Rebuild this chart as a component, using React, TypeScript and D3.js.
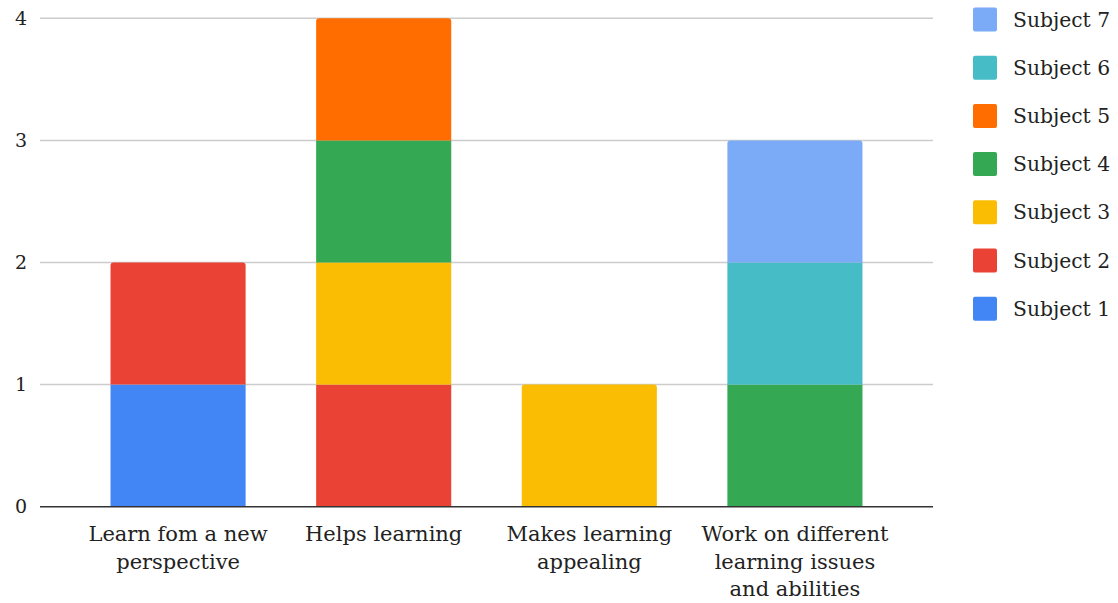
import React from "react";
import * as d3 from "d3";

const categories = [
  "Learn fom a new perspective",
  "Helps learning",
  "Makes learning appealing",
  "Work on different learning issues and abilities",
];
const categoryLines = [
  ["Learn fom a new", "perspective"],
  ["Helps learning"],
  ["Makes learning", "appealing"],
  ["Work on different", "learning issues", "and abilities"],
];
const seriesNames = ["Subject 1", "Subject 2", "Subject 3", "Subject 4", "Subject 5", "Subject 6", "Subject 7"];
const seriesColors = ["#4285F4", "#EA4335", "#FBBC04", "#34A853", "#FF6D01", "#46BDC6", "#7BAAF7"];
// values per category, one entry per series
const subject1 = [1, 0, 0, 0];
const subject2 = [1, 1, 0, 0];
const subject3 = [0, 1, 1, 0];
const subject4 = [0, 1, 0, 1];
const subject5 = [0, 1, 0, 0];
const subject6 = [0, 0, 0, 1];
const subject7 = [0, 0, 0, 1];
const yTicks = [0, 1, 2, 3, 4];

const W = 1118;
const H = 603;
const FONT = "'DejaVu Serif', 'Liberation Serif', serif";

function topRoundedRect(x: number, y: number, w: number, h: number, r: number) {
  const rr = Math.min(r, h / 2, w / 2);
  return `M${x},${y + h}V${y + rr}Q${x},${y} ${x + rr},${y}H${x + w - rr}Q${x + w},${y} ${x + w},${y + rr}V${y + h}Z`;
}

export default function App() {
  const seriesValues = [subject1, subject2, subject3, subject4, subject5, subject6, subject7];
  const rows = categories.map((c, i) => {
    const row: Record<string, number | string> = { category: c };
    seriesNames.forEach((s, j) => (row[s] = seriesValues[j][i]));
    return row;
  });
  const stack = d3.stack<Record<string, number | string>>().keys(seriesNames);
  const layers = stack(rows as any);

  const x = d3.scaleBand<string>().domain(categories).range([40, 933]).padding(0.343);
  const y = d3.scaleLinear().domain([0, 4]).range([506.7, 18.3]);

  // highest non-empty segment per category gets rounded top corners
  const topIndex = categories.map((_, i) => {
    let t = -1;
    seriesNames.forEach((_, j) => {
      if (seriesValues[j][i] > 0) t = j;
    });
    return t;
  });

  const legendOrder = seriesNames.map((_, i) => i).reverse();

  return (
    <svg width={W} height={H} style={{ position: "absolute", left: 0, top: 0, background: "#fff" }}>
      <rect width={W} height={H} fill="#fff" />
      {yTicks.filter((t) => t > 0).map((t) => (
        <line key={t} x1={40} x2={933} y1={y(t)} y2={y(t)} stroke="#cccccc" strokeWidth={1.5} />
      ))}
      {yTicks.map((t) => (
        <text key={t} x={27} y={y(t)} dy="0.35em" textAnchor="end" fontFamily={FONT} fontSize={19} fill="#222">
          {t}
        </text>
      ))}
      {layers.map((layer, j) =>
        layer.map((d, i) => {
          const v = d[1] - d[0];
          if (v <= 0) return null;
          const bx = x(categories[i])!;
          const bw = x.bandwidth();
          const y0 = y(d[0]);
          const y1 = y(d[1]);
          if (topIndex[i] === j) {
            return <path key={`${j}-${i}`} d={topRoundedRect(bx, y1, bw, y0 - y1, 3)} fill={seriesColors[j]} />;
          }
          return <rect key={`${j}-${i}`} x={bx} y={y1} width={bw} height={y0 - y1} fill={seriesColors[j]} />;
        })
      )}
      <line x1={40} x2={933} y1={y(0)} y2={y(0)} stroke="#333333" strokeWidth={1.6} />
      {categories.map((c, i) => (
        <text key={c} x={x(c)! + x.bandwidth() / 2} y={541} textAnchor="middle" fontFamily={FONT} fontSize={21} fill="#222">
          {categoryLines[i].map((ln, k) => (
            <tspan key={k} x={x(c)! + x.bandwidth() / 2} dy={k === 0 ? 0 : 27.5}>
              {ln}
            </tspan>
          ))}
        </text>
      ))}
      {legendOrder.map((j, k) => {
        const cy = 19.5 + k * 48.2;
        return (
          <g key={seriesNames[j]}>
            <rect x={973} y={cy - 12} width={24} height={24} rx={2} fill={seriesColors[j]} />
            <text x={1013} y={cy} dy="0.35em" fontFamily={FONT} fontSize={20.3} fill="#222">
              {seriesNames[j]}
            </text>
          </g>
        );
      })}
    </svg>
  );
}
